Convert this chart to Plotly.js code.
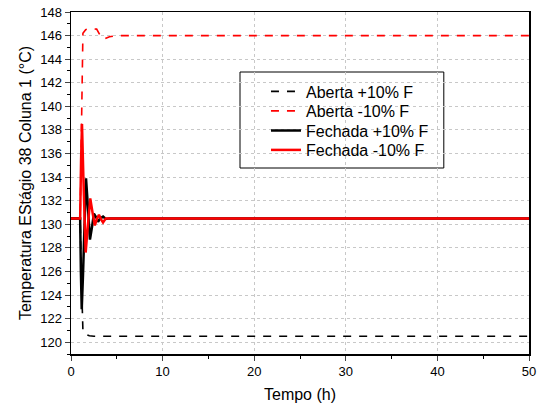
<!DOCTYPE html>
<html>
<head>
<meta charset="utf-8">
<script src="https://cdn.plot.ly/plotly-3.0.1.min.js"></script>
<style>html,body{margin:0;padding:0;background:#fff;}#chart{width:547px;height:412px;}</style>
</head>
<body>
<div id="chart"></div>
<script>
// Series names
const seriesNames = ["Aberta +10% F", "Aberta -10% F", "Fechada +10% F", "Fechada -10% F"];

// Aberta +10% F (open loop, +10% feed)
const tAbertaPlus = [0, 1.0, 1.1, 1.2, 1.3, 1.5, 2.0, 2.5, 50];
const yAbertaPlus = [130.5, 130.5, 126.5, 122.5, 121.0, 120.7, 120.55, 120.5, 120.5];

// Aberta -10% F (open loop, -10% feed)
const tAbertaMinus = [0, 1.0, 1.1, 1.2, 1.3, 1.6, 2.0, 2.8, 3.2, 3.6, 4.2, 5.0, 50];
const yAbertaMinus = [130.5, 130.5, 136.0, 142.0, 146.2, 146.5, 146.6, 146.55, 146.0, 145.7, 145.9, 146.0, 146.0];

// Fechada +10% F (closed loop, +10% feed)
const tFechadaPlus = [0, 1.0, 1.08, 1.17, 1.3, 1.5, 1.64, 1.8, 2.07, 2.3, 2.5, 2.75, 2.95, 3.2, 3.5, 3.8, 4.2, 50];
const yFechadaPlus = [130.5, 130.5, 126.0, 122.8, 125.5, 131.5, 133.9, 132.0, 128.7, 129.8, 130.9, 130.6, 130.2, 130.5, 130.65, 130.45, 130.5, 130.5];

// Fechada -10% F (closed loop, -10% feed)
const tFechadaMinus = [0, 1.0, 1.1, 1.2, 1.35, 1.6, 1.8, 2.1, 2.35, 2.6, 2.85, 3.05, 3.3, 3.5, 3.8, 4.2, 50];
const yFechadaMinus = [130.5, 130.5, 135.5, 138.5, 134.0, 127.6, 129.5, 132.2, 131.0, 129.9, 130.5, 130.8, 130.4, 130.15, 130.5, 130.5, 130.5];

const xTickVals = [0, 10, 20, 30, 40, 50];
const yTickVals = [120, 122, 124, 126, 128, 130, 132, 134, 136, 138, 140, 142, 144, 146, 148];

const traces = [
  {x: tAbertaPlus, y: yAbertaPlus, name: seriesNames[0], mode: "lines", legend: "legend",
   line: {color: "#000000", width: 1.6, dash: "8px,8px"}},
  {x: tAbertaMinus, y: yAbertaMinus, name: seriesNames[1], mode: "lines", legend: "legend2",
   line: {color: "#ff0000", width: 1.6, dash: "8px,8px"}},
  {x: tFechadaPlus, y: yFechadaPlus, name: seriesNames[2], mode: "lines", legend: "legend3",
   line: {color: "#000000", width: 2.5}},
  {x: tFechadaMinus, y: yFechadaMinus, name: seriesNames[3], mode: "lines", legend: "legend4",
   line: {color: "#ff0000", width: 2.5}}
];

// plot area: y pixels 12..354 -> paper 1..0
function py(pix) { return (354 - pix) / 342; }
function legendAt(centerPix) {
  return {x: 0.4257, y: py(centerPix), xanchor: "left", yanchor: "middle",
    borderwidth: 0, bgcolor: "rgba(255,255,255,0)",
    font: {size: 16, family: "Liberation Sans, Arial, sans-serif", color: "#000"},
    itemwidth: 30};
}

const layout = {
  width: 547, height: 412,
  margin: {l: 71, r: 18, t: 12, b: 58},
  paper_bgcolor: "#ffffff", plot_bgcolor: "#ffffff",
  font: {family: "Liberation Sans, Arial, sans-serif", size: 13, color: "#000"},
  showlegend: true,
  legend: legendAt(91.5),
  legend2: legendAt(111),
  legend3: legendAt(130.5),
  legend4: legendAt(150),
  shapes: [{type: "rect", xref: "paper", yref: "paper",
    x0: 0.369, x1: 0.814, y0: py(168), y1: py(72),
    line: {color: "#000", width: 1}, fillcolor: "#fff", layer: "below"}],
  xaxis: {
    range: [0, 50], tickvals: xTickVals, ticks: "outside", ticklen: 5, tickwidth: 1,
    showline: true, linecolor: "#000", linewidth: 1.5, mirror: true,
    showgrid: true, gridcolor: "#c8c8c8", griddash: "dot", gridwidth: 1,
    zeroline: false, tickfont: {size: 13},
    minor: {dtick: 5, ticks: "outside", ticklen: 3, tickcolor: "#000", showgrid: false},
    title: {text: "Tempo (h)", font: {size: 16}, standoff: 10}
  },
  yaxis: {
    range: [119, 148], tickvals: yTickVals, ticks: "outside", ticklen: 5, tickwidth: 1,
    showline: true, linecolor: "#000", linewidth: 1.5, mirror: true,
    showgrid: true, gridcolor: "#c8c8c8", griddash: "dot", gridwidth: 1,
    zeroline: false, tickfont: {size: 13},
    minor: {dtick: 1, tick0: 119, ticks: "outside", ticklen: 3, tickcolor: "#000", showgrid: false},
    title: {text: "Temperatura EStágio 38 Coluna 1 (°C)", font: {size: 16}, standoff: 4}
  }
};

Plotly.newPlot("chart", traces, layout, {displayModeBar: false, staticPlot: true});
</script>
</body>
</html>
